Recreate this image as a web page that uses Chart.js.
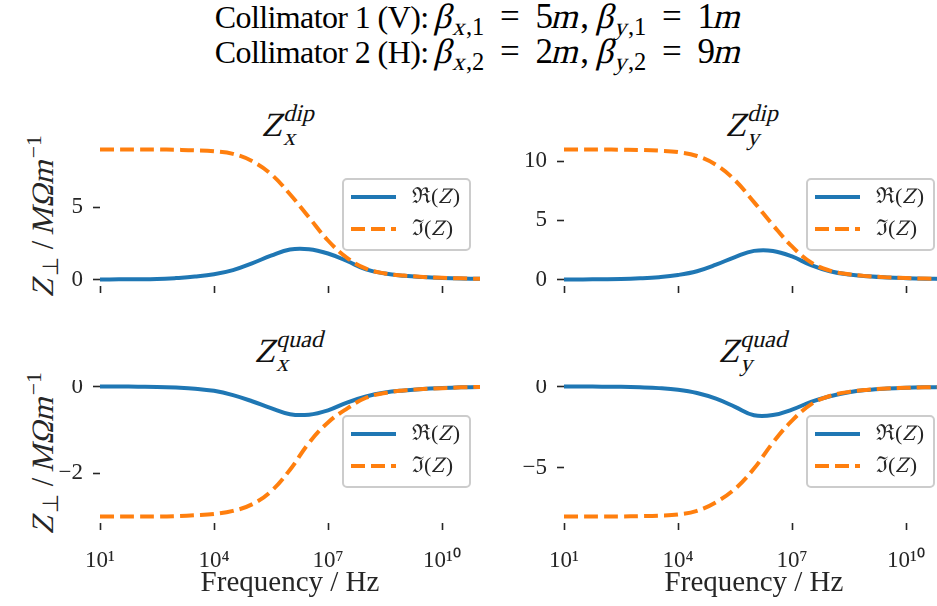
<!DOCTYPE html>
<html>
<head>
<meta charset="utf-8">
<script src="https://cdn.jsdelivr.net/npm/chart.js@4.4.1/dist/chart.umd.min.js"></script>
<style>
  html, body { margin: 0; padding: 0; background: #fff; }
  body { position: relative; width: 937px; height: 606px; overflow: hidden; color: #000; }
  canvas { position: absolute; }
  .it { display: inline-block; font-style: normal; transform: skewX(-14deg); }
  #sup { position: absolute; left: 0; top: 0; width: 957px; text-align: center;
         font-family: 'Liberation Serif', serif; font-size: 32px; line-height: 35px; letter-spacing: -0.6px; }
  .mt { font-size: 35px; letter-spacing: 0; line-height: 0; }
  .mt sub { font-size: 0.7em; vertical-align: -0.3em; line-height: 0; }
  .eq { margin: 0 0.45em; }
  .pt { position: absolute; width: 200px; text-align: center; color: #111;
        font: 34px 'Liberation Serif', serif; line-height: 34px; white-space: nowrap; }
  .ss { position: relative; top: -15px; font-size: 24px; }
  .sb { position: absolute; left: 0; top: 20px; }
  .yl { position: absolute; left: 43px; width: 0; height: 0; }
  .yl .in { position: absolute; white-space: nowrap; color: #262626;
            transform: translate(-50%, -50%) rotate(-90deg);
            font: 31px 'Liberation Serif', serif; line-height: 32px; }
  .yl sub { font-size: 0.7em; vertical-align: -0.25em; line-height: 0; }
  .yl sup { font-size: 0.7em; vertical-align: 0.55em; line-height: 0; }
</style>
</head>
<body>
<div id="sup">
  <div>Collimator 1 (V): <span class="mt"><span class="it">β</span><sub><span class="it">x</span>,1</sub><span class="eq">=</span>5<span class="it">m</span>, <span class="it">β</span><sub><span class="it">y</span>,1</sub><span class="eq">=</span>1<span class="it">m</span></span></div>
  <div>Collimator 2 (H): <span class="mt"><span class="it">β</span><sub><span class="it">x</span>,2</sub><span class="eq">=</span>2<span class="it">m</span>, <span class="it">β</span><sub><span class="it">y</span>,2</sub><span class="eq">=</span>9<span class="it">m</span></span></div>
</div>

<div class="pt" style="left:190px; top:108px"><span class="it">Z</span><span class="ss"><span class="it">dip</span><span class="sb"><span class="it">x</span></span></span></div>
<div class="pt" style="left:654px; top:108px"><span class="it">Z</span><span class="ss"><span class="it">dip</span><span class="sb"><span class="it">y</span></span></span></div>
<div class="pt" style="left:191px; top:334px"><span class="it">Z</span><span class="ss"><span class="it">quad</span><span class="sb"><span class="it">x</span></span></span></div>
<div class="pt" style="left:655px; top:334px"><span class="it">Z</span><span class="ss"><span class="it">quad</span><span class="sb"><span class="it">y</span></span></span></div>

<div class="yl" style="top:215px"><span class="in"><span class="it">Z</span><sub>⊥</sub> / <span class="it">MΩm</span><sup>−1</sup></span></div>
<div class="yl" style="top:452px"><span class="in"><span class="it">Z</span><sub>⊥</sub> / <span class="it">MΩm</span><sup>−1</sup></span></div>

<canvas id="dipX" width="440" height="155" style="left:40px; top:143px"></canvas>
<canvas id="dipY" width="440" height="155" style="left:504px; top:143px"></canvas>
<canvas id="quadX" width="440" height="223" style="left:40px; top:380px"></canvas>
<canvas id="quadY" width="440" height="223" style="left:504px; top:380px"></canvas>

<script>
// frequency grid, half decades from 10 Hz to 100 GHz
const freqHz = [1e1, 3.16e1, 1e2, 3.16e2, 1e3, 3.16e3, 1e4, 3.16e4, 1e5, 3.16e5, 1e6,
                3.16e6, 1e7, 3.16e7, 1e8, 3.16e8, 1e9, 3.16e9, 1e10, 3.16e10, 1e11];

const dipXRe = [0.0, 0.01, 0.01, 0.03, 0.1, 0.2, 0.36, 0.65, 1.12, 1.65, 2.08, 2.1, 1.8, 1.28, 0.7, 0.41, 0.26, 0.17, 0.11, 0.07, 0.05];
const dipXIm = [9.0, 9.0, 9.0, 9.0, 8.98, 8.95, 8.88, 8.7, 8.2, 7.3, 5.9, 4.3, 2.7, 1.5, 0.75, 0.42, 0.27, 0.18, 0.12, 0.08, 0.05];

const dipYRe = [0.0, 0.01, 0.02, 0.04, 0.1, 0.2, 0.38, 0.7, 1.25, 1.9, 2.42, 2.42, 1.95, 1.22, 0.7, 0.42, 0.27, 0.17, 0.11, 0.07, 0.05];
const dipYIm = [11.0, 11.0, 11.0, 10.98, 10.96, 10.9, 10.78, 10.45, 9.7, 8.4, 6.55, 4.6, 2.8, 1.45, 0.75, 0.44, 0.28, 0.18, 0.12, 0.08, 0.05];

const quadXRe = [0.0, 0.0, -0.005, -0.01, -0.025, -0.05, -0.1, -0.2, -0.34, -0.5, -0.64, -0.65, -0.55, -0.37, -0.23, -0.14, -0.09, -0.055, -0.035, -0.02, -0.01];
const quadXIm = [-3.0, -3.0, -3.0, -3.0, -2.99, -2.97, -2.94, -2.87, -2.72, -2.42, -1.92, -1.3, -0.83, -0.51, -0.26, -0.15, -0.09, -0.06, -0.04, -0.02, -0.01];

const quadYRe = [0.0, 0.0, -0.01, -0.02, -0.05, -0.1, -0.2, -0.4, -0.75, -1.25, -1.77, -1.76, -1.42, -0.95, -0.6, -0.35, -0.21, -0.13, -0.08, -0.05, -0.03];
const quadYIm = [-8.0, -8.0, -8.0, -8.0, -7.98, -7.95, -7.88, -7.65, -7.12, -6.3, -5.05, -3.45, -2.1, -1.1, -0.58, -0.33, -0.2, -0.12, -0.08, -0.05, -0.03];

const xTicks = [1e1, 1e4, 1e7, 1e10];
const xTickLabels = ['10¹', '10⁴', '10⁷', '10¹⁰'];

const dipXTicks = [0, 5];
const dipYTicks = [0, 5, 10];
const quadXTicks = [-2, 0];
const quadYTicks = [-5, 0];

const dipXRange = [-0.45, 9.45];
const dipYRange = [-0.55, 11.55];
const quadXRange = [-3.15, 0.15];
const quadYRange = [-8.4, 0.4];

const seriesLabels = ['ℜ(Z)', 'ℑ(Z)'];
const seriesColors = ['#1f77b4', '#ff7f0e'];

const tickCol = '#262626';
const serif = "'Liberation Serif', serif";

// label like "ℜ(Z)": symbol and brackets upright, Z slanted
function drawSeriesLabel(ctx, label, x, y) {
  ctx.fillStyle = tickCol;
  ctx.textAlign = 'left';
  ctx.textBaseline = 'middle';
  ctx.font = '22px ' + serif;
  const head = label.slice(0, 2), mid = label.slice(2, 3), tail = label.slice(3);
  ctx.fillText(head, x, y);
  x += ctx.measureText(head).width;
  ctx.save();
  ctx.translate(x, y);
  ctx.transform(1, 0, -0.25, 1, 0, 0);
  ctx.fillText(mid, 1, 0);
  ctx.restore();
  x += ctx.measureText(mid).width + 1;
  ctx.fillText(tail, x, y);
}

// matplotlib-like legend box, centre right of the plot area
const boxLegend = {
  id: 'boxLegend',
  afterDatasetsDraw(chart) {
    const ctx = chart.ctx;
    const area = chart.chartArea;
    const w = 127, h = 71, r = 4;
    const x0 = area.right - 10 - w;
    const y0 = (area.top + area.bottom - h) / 2;
    ctx.save();
    ctx.beginPath();
    ctx.moveTo(x0 + r, y0);
    ctx.arcTo(x0 + w, y0, x0 + w, y0 + h, r);
    ctx.arcTo(x0 + w, y0 + h, x0, y0 + h, r);
    ctx.arcTo(x0, y0 + h, x0, y0, r);
    ctx.arcTo(x0, y0, x0 + w, y0, r);
    ctx.closePath();
    ctx.fillStyle = 'rgba(255,255,255,0.8)';
    ctx.fill();
    ctx.lineWidth = 2;
    ctx.strokeStyle = '#cccccc';
    ctx.stroke();

    chart.data.datasets.forEach((ds, i) => {
      const y = y0 + 18 + i * 32;
      ctx.beginPath();
      ctx.setLineDash(ds.borderDash || []);
      ctx.lineWidth = ds.borderWidth;
      ctx.strokeStyle = ds.borderColor;
      ctx.moveTo(x0 + 8, y);
      ctx.lineTo(x0 + 53, y);
      ctx.stroke();
      ctx.setLineDash([]);
      drawSeriesLabel(ctx, ds.label, x0 + 69, y);
    });
    ctx.restore();
  }
};

function makePanel(id, re, im, yTicks, yRange, withLabels) {
  const ctx = document.getElementById(id).getContext('2d');
  return new Chart(ctx, {
    type: 'line',
    data: {
      datasets: [
        {
          label: seriesLabels[0],
          data: freqHz.map((f, i) => ({ x: f, y: re[i] })),
          borderColor: seriesColors[0],
          borderWidth: 4,
          pointRadius: 0,
          tension: 0.4,
          order: 2
        },
        {
          label: seriesLabels[1],
          data: freqHz.map((f, i) => ({ x: f, y: im[i] })),
          borderColor: seriesColors[1],
          borderWidth: 4,
          borderDash: [14, 6],
          pointRadius: 0,
          tension: 0.4,
          order: 1
        }
      ]
    },
    options: {
      responsive: false,
      animation: false,
      devicePixelRatio: 1,
      layout: { padding: 0 },
      plugins: { legend: { display: false }, tooltip: { enabled: false } },
      scales: {
        x: {
          type: 'logarithmic',
          min: 10,
          max: 1e11,
          border: { display: false },
          grid: { drawOnChartArea: false, tickLength: 7, tickWidth: 1.6, tickColor: tickCol },
          afterBuildTicks: axis => { axis.ticks = xTicks.map(v => ({ value: v })); },
          afterFit: axis => {
            axis.height = withLabels ? 80 : 12;
            axis.paddingLeft = 0;
            axis.paddingRight = 0;
          },
          ticks: {
            display: withLabels,
            autoSkip: false,
            maxRotation: 0,
            padding: 17,
            color: tickCol,
            font: { family: serif, size: 23 },
            callback: (v, i) => xTickLabels[i]
          },
          title: {
            display: withLabels,
            text: 'Frequency / Hz',
            color: tickCol,
            font: { family: serif, size: 29 },
            padding: { top: 0, bottom: 2 }
          }
        },
        y: {
          min: yRange[0],
          max: yRange[1],
          border: { display: false },
          grid: { drawOnChartArea: false, tickLength: 7, tickWidth: 1.6, tickColor: tickCol },
          afterBuildTicks: axis => { axis.ticks = yTicks.map(v => ({ value: v })); },
          afterFit: axis => {
            axis.width = 60;
            axis.paddingTop = 0;
            axis.paddingBottom = 0;
          },
          ticks: {
            padding: 10,
            color: tickCol,
            font: { family: serif, size: 23 },
            callback: v => (v < 0 ? '\u2212' + Math.abs(v) : String(v))
          }
        }
      }
    },
    plugins: [boxLegend]
  });
}

makePanel('dipX', dipXRe, dipXIm, dipXTicks, dipXRange, false);
makePanel('dipY', dipYRe, dipYIm, dipYTicks, dipYRange, false);
makePanel('quadX', quadXRe, quadXIm, quadXTicks, quadXRange, true);
makePanel('quadY', quadYRe, quadYIm, quadYTicks, quadYRange, true);
</script>
</body>
</html>
